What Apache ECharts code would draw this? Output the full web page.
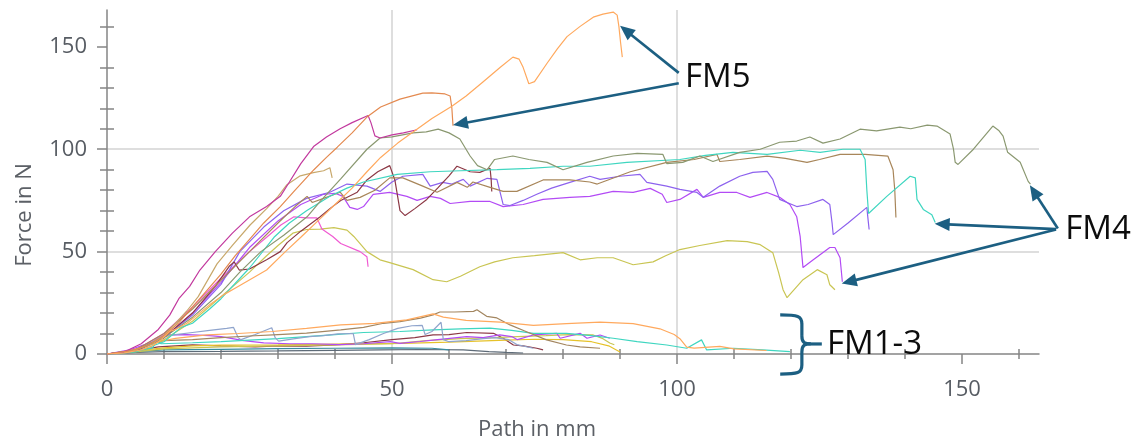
<!DOCTYPE html>
<html>
<head>
<meta charset="utf-8">
<script src="https://cdn.jsdelivr.net/npm/echarts@6.0.0/dist/echarts.min.js"></script>
<style>
html,body{margin:0;padding:0;background:#fff;}
#c{width:1138px;height:438px;}
</style>
</head>
<body>
<div id="c"></div>
<script>
// ---------- tick labels / ticks ----------
const xMajorTicks = [0, 50, 100, 150];
const xMinorTicks = [10, 20, 30, 40, 60, 70, 80, 90, 110, 120, 130, 140, 160];
const yMajorTicks = [0, 50, 100, 150];
const yMinorTicks = [10, 20, 30, 40, 60, 70, 80, 90, 110, 120, 130, 140, 160];
const xName = 'Path in mm';
const yName = 'Force in N';

// ---------- high-force curves (FM4 / FM5) : [path mm, force N] ----------
const fm5Orange = [[0,0],[3,0.5],[6,2],[8,4],[9.5,7],[11,11],[12,12],[14,15],[15.8,19],[18,24],[20.5,29],[23,33],[25.5,37],[28,41],[31.3,50],[34,57],[37,65],[40,73],[43,81],[45.6,89],[48,96],[51,103],[54,109],[57,115],[60.5,121],[63,126],[66,133],[69,140],[71.2,145],[72.3,144],[73,140],[74,132],[75,133],[77.2,142],[79,149],[80.7,155],[83,160],[85.3,164.5],[87,166],[88.8,167],[89.5,165.5],[89.8,160],[90.1,152],[90.4,145]];
const fm5DarkOrange = [[0,0],[4,1.5],[7,4],[10,9],[12.5,15],[15,23],[17.5,31],[20,39],[22.5,48],[25,56],[27.5,64],[30.4,72],[33,80],[36.3,90],[38.5,96],[40.4,101],[43,108],[45.6,115.7],[48,120.6],[51.4,124.5],[55.4,127.4],[57,127.5],[59.3,127],[60.2,126],[60.5,120],[60.7,111.5]];
const magenta = [[0,0],[3,1],[6,5],[9,12],[11,19],[12.6,27],[14.5,33],[16.3,41],[19,50],[22,59],[25,67],[28,72],[30.4,77],[32,84],[34,93],[36.3,101.5],[38.5,106],[40.9,110],[43,113],[45.8,116.5],[46.3,113],[47,106.5],[47.9,105.5],[50,107],[52,108],[54.4,109.5]];
const tan = [[0,0],[4,1],[8,5],[10,9],[12,15],[14,21],[16,28],[19.3,44],[22,53],[25.1,63],[28,71],[30,77],[31.5,82.5],[33.9,87],[36.2,88.6],[38,89.5],[39.1,91],[39.5,86]];
const fm4Olive = [[0,0],[5,2],[10,8],[15,18],[20,30],[23.3,40],[27,50],[31,58],[35.1,67],[37.4,74.5],[41,85.5],[45.6,100],[47.9,105.5],[50,106],[53.7,108],[56,108.5],[58.1,109.8],[60,108],[61.9,105],[63.7,96.7],[65,92],[66.7,90],[68,95],[71.2,96.7],[74,95],[77.2,93.6],[80,90],[84.2,93.6],[88.8,96.7],[93,98],[97.5,97.5],[98.2,93],[101,93.6],[104,96.7],[106.3,94],[111,98.5],[114.6,100],[118,103.4],[121,104],[123.3,106],[125.6,103],[128.6,105],[132.1,109.8],[135,109],[139.1,110.8],[141,110],[143.9,111.8],[145.6,111.3],[147.9,107.4],[148.5,100],[148.8,93.6],[149.3,92.6],[152,100],[155.4,111.3],[156.5,109],[157.2,106.4],[158,98.5],[160.2,93.6],[161.6,84.3],[162,83]];
const fm4Teal = [[0,0],[5,1],[10,6],[13,13],[15,15],[18,22],[20,27],[25,42],[29.3,57],[32,64],[35,70],[39.1,77],[42.1,81],[45,84],[50.9,87.7],[56.7,89],[62,89.5],[68.4,90],[74.2,90.7],[80,91.7],[84.7,91.7],[91.2,93.6],[100.5,95],[105,97],[109.8,98.5],[115.8,97.5],[121.6,99.5],[125.1,98.5],[129.1,100],[132.1,100],[133,95],[133.3,80],[133.6,68.6],[136.8,77],[140.9,86.8],[141.8,86],[142.1,75.5],[143.2,70.6],[144.7,68],[145.3,64.2]];
const brown = [[0,0],[5,2],[10,10],[15,22],[20,36],[25,50],[30,64],[33,72],[35.1,77],[36,74],[38,76],[40.9,79],[42.1,75],[44.4,76.5],[47,80],[49.6,86],[51.9,86],[55.4,82],[57.9,79],[61.4,83.8],[63.2,81.4],[64.2,84],[67.2,81.4],[69.5,79.4],[71.9,79.4],[76.5,85],[81.2,85],[84.7,84],[86,83],[91.8,89],[98.2,93.6],[103,95],[107,97.5],[107.5,94],[111,95],[115.8,96.6],[119,95.5],[122.8,93.6],[125,95],[128.6,97.5],[133,97.5],[137,96.6],[137.9,90],[138.2,80],[138.4,66.7]];
const maroon = [[0,0],[5,1.5],[10,8],[15,20],[19,33],[21.5,43],[22.3,45],[23.2,41],[25,41.5],[28,46],[30.4,50],[31.6,54.4],[34,60],[37.4,67],[39.1,71],[41,75],[43.9,79],[45.6,85],[47.5,89],[49.6,92],[50.5,85],[51.4,70],[52.3,67.6],[54,71],[56.1,75.5],[58,81],[60,87],[61.4,91.7],[63.7,89],[65.4,88.7],[67.2,90.7],[67.4,85],[67.5,79.4]];
const fm4Violet = [[0,0],[5,1.5],[10,8],[15,19],[20,34],[23.3,50],[27.5,62],[31,70],[35,76],[39.1,79],[42.1,83],[45.6,82],[47.9,79.4],[50,84],[51.9,86.8],[55.4,87.7],[56.7,82],[58.9,83.8],[60.5,83],[62.5,85.3],[63.7,82],[66.7,85.8],[68.4,85.3],[69.5,73],[70.7,72.5],[73,75],[75.4,78],[78,81],[81.2,83.8],[84.7,86.8],[86.5,85.3],[90,86.8],[93.5,87.7],[94.7,83.8],[98.2,82],[100.5,80.4],[103.5,78.9],[104.6,76.5],[107.5,82],[111,86.8],[113.3,88.7],[115.8,89.2],[116.8,85.3],[118,75.5],[119.3,74],[121,72],[123,73],[125.6,75.5],[126.8,73],[127.2,64],[127.4,58.3],[130,64],[133.3,71.6],[133.5,66],[133.7,60.8]];
const fm4Purple = [[0,0],[5,1.5],[10,8],[15,20],[20,35],[25,52],[30,65],[34,73],[38,78],[40,78.5],[41.4,77],[42.6,71.6],[43.9,70.6],[45,72],[46.7,78],[49.6,78.9],[52.6,77],[54.4,75],[56.7,77],[58.5,76],[60.2,73.5],[63.7,74.5],[67.2,74.5],[69.5,72],[73,73],[76.5,75.5],[81.2,76.5],[84.7,77],[88.8,79.4],[92.3,78.9],[95.3,80.9],[97.4,78],[98.2,74],[100.5,75.5],[103.5,80.4],[104.6,76.5],[107.5,78.9],[110.5,78.9],[112.8,76.5],[115.8,78.9],[118,76.5],[119.8,73],[121,67],[121.6,57.4],[122.1,42.2],[123.9,46],[126.8,52],[127.7,52],[128.6,47],[129,35.3]];
const pink = [[0,0],[5,2],[10,10],[15,23],[20,37],[25,50],[28,57],[30.5,63],[32.8,67],[35,66.5],[36.8,66.5],[37.7,61],[39.6,57.4],[41,54],[44.4,50],[45.6,47.5],[45.8,42.6]];
const fm4Yellow = [[0,0],[5,1.5],[10,7],[15,16],[20,28],[25,40],[28,48],[30,53],[32.6,59],[35,60.8],[37.4,61],[39.8,61.7],[42.1,60.5],[43.3,57.4],[45.6,50],[47.9,46],[49.6,44.6],[53.7,41.2],[57.2,36.3],[59.6,35.3],[62,38],[65.4,42.6],[68,45],[71.2,47],[75,48],[80,49.5],[83,46],[86,47],[88.8,47],[92.3,43.6],[95.8,45],[98,48],[100.5,51],[104,53],[108.8,55.4],[112.3,54.9],[114.6,53.4],[116.8,49.5],[117.8,40],[118.6,31.4],[119.3,27.5],[122.1,36.3],[124.6,41.2],[126.3,38.7],[126.8,33.8],[127.7,31.4]];

// ---------- low-force curves (FM1-3) ----------
const lowBlueGray = [[0,0],[4,1],[7,4],[9,8],[12,9.5],[15,10.5],[18,11.5],[21,12.5],[22.2,13],[23,8],[23.5,7],[26,9.5],[28.9,12.8],[29.5,8],[30.1,6.3],[33,7.5],[35.5,8.5],[38,9],[40.5,9.8],[43.2,10],[43.6,4.6],[46,7],[48.5,10],[51,12.5],[53.5,13.8],[55.3,14],[55.8,9.5],[57,11],[58.6,15.5],[59,7],[60,6],[63,6.5],[66,7.5],[68,8],[70.5,7],[71.9,4.6],[74.8,2.8]];
const lowOrange = [[0,0],[3,1],[6,3],[9,6],[12,7.6],[17.5,9.3],[23,10],[29,11],[35,12.5],[41,14.2],[47,15],[52.6,16.7],[57.2,19.6],[59,18],[63,16.4],[69,15.6],[74.8,14],[80.6,14.8],[86.5,15.6],[92.3,14.8],[97,12.3],[99.5,9.5],[100.5,7.5],[101.7,3.4],[103,2.9],[107.5,3.7],[110,2.5],[115.7,1.7]];
const lowBrown = [[0,0],[4,1],[8,5],[10,6.5],[15,7],[20,8],[25,8.8],[30,9.5],[35,10.2],[41,11.8],[45,13],[48.5,15],[51.4,15.8],[55,17.5],[57.2,19.1],[58.4,20.5],[61,20.5],[64.3,20.8],[64.9,21.6],[66.6,18.4],[68.4,17.6],[70.7,14.2],[73.6,10.9],[77.1,6.9],[80.6,4.4],[83,3.5],[86.5,2.8]];
const lowTeal = [[0,0],[4,1],[8,3],[8.8,6.9],[9.5,5],[15,5.5],[20,6],[25,6.8],[30,7.5],[35,8.5],[40,9.5],[45,10.5],[51.4,11],[57.2,11.8],[62,12.3],[67.2,12.6],[71,11.5],[74.8,10.1],[80.6,10.1],[85,9],[88.8,7.7],[93,6],[98.2,4.4],[101.7,2.8],[104.3,6.9],[105.2,2],[109.9,2.8],[115,2],[119.8,1.2]];
const lowPurple = [[0,0],[4,2],[8,6],[10,9.3],[14,9.5],[18,9],[20,8.5],[24,6.5],[27.5,5.4],[32,5],[36,5],[40.9,4.6],[45,5],[49.7,6],[51.4,5.2],[54.9,6.1],[58,7],[63.1,8.5],[66,8],[68.9,9.3],[71,8.5],[72,7],[74.8,9.3],[78.9,10.1],[79.5,7.7],[83,10.1],[84.2,7.7],[86.5,9.3],[88.2,7.7]];
const lowMaroon = [[0,0],[5,1.5],[9,3.5],[15,4.5],[20,4],[26,3.5],[30,4],[35,3.8],[40,4.5],[45,5.5],[50,7],[54,8],[57.2,9.3],[60,9.5],[63.1,10.5],[67.8,10.1],[69.5,7.7],[71.3,4.4],[73,4],[75.4,2.8],[76.5,2]];
const lowGold = [[0,0],[5,1.5],[10,3],[15,4],[20,4.3],[30,4.5],[40,4.8],[52,5.2],[60,5.8],[65,6.3],[70,6.8],[75,7.2],[80,7],[85,6],[88,4],[90,1]];
const lowOlive = [[0,0],[5,1],[10,2.5],[20,3.5],[30,4],[40,4.5],[50,5],[56,6.5],[62,7.5],[68,8],[72,8.5],[77,9],[81,9.5],[85.3,9.3],[87,7.5],[88.2,5.4],[89,4.5]];
const lowSlate = [[0,0],[5,0.8],[10,1.2],[20,1.3],[30,1.5],[40,1.8],[48,2],[55,2.2],[62.5,2],[67,1.2],[70,0.8],[73,0.5]];
const lowDarkTeal = [[0,0],[5,1.2],[10,2],[20,2.3],[30,2.6],[40,2.8],[50,3],[57,2.8],[60,2]];

// ---------- annotations (data coordinates) ----------
const annFM5 = {label: 'FM5', at: [101.4, 134.8], from: [[100.3, 137.3], [100.3, 132.2]], to: [[90.0, 160.3], [60.7, 111.8]]};
const annFM4 = {label: 'FM4', at: [168.1, 60.8], from: [[166.8, 61.3], [166.5, 61.0], [166.5, 60.8]], to: [[161.9, 82.4], [145.2, 63.6], [128.9, 34.4]]};
const annFM13 = {label: 'FM1-3', at: [126.3, 4.4], brace: {x: 121.9, hookX: 118.1, tipX: 125.4, top: 19.1, bottom: -9.8, mid: 4.9}};

const seriesDefs = [
  ['FM low maroon', lowMaroon, '#8c3845'],
  ['FM low slate', lowSlate, '#5e6b78'],
  ['FM low dark teal', lowDarkTeal, '#3a8c9e'],
  ['FM low gold', lowGold, '#e6c22a'],
  ['FM low olive', lowOlive, '#c9c553'],
  ['FM low purple', lowPurple, '#b34bf5'],
  ['FM low teal', lowTeal, '#3fd6c0'],
  ['FM low blue-gray', lowBlueGray, '#8fa4cc'],
  ['FM low brown', lowBrown, '#a38660'],
  ['FM low orange', lowOrange, '#ffa95e'],
  ['FM4 yellow', fm4Yellow, '#c9c553'],
  ['pink', pink, '#f05ad2'],
  ['FM4 purple', fm4Purple, '#b34bf5'],
  ['FM4 violet', fm4Violet, '#8d62ee'],
  ['maroon', maroon, '#8c3845'],
  ['brown', brown, '#a8865a'],
  ['FM4 teal', fm4Teal, '#3fd6c0'],
  ['FM4 olive', fm4Olive, '#8a9870'],
  ['tan', tan, '#c8a86b'],
  ['magenta', magenta, '#c2399e'],
  ['FM5 dark orange', fm5DarkOrange, '#e48a50'],
  ['FM5 orange', fm5Orange, '#ffa95e']
];

const AX = '#858585';
const GRID = '#d3d3d3';
const LBL = '#575c63';
const FONT = '"Open Sans", "Noto Sans", sans-serif';
const XMAX = 163.5, YMAX = 168;

function xAx(extra){ return Object.assign({type:'value', min:0, max:XMAX, position:'bottom', gridIndex:0}, extra); }
function yAx(extra){ return Object.assign({type:'value', min:0, max:YMAX, position:'left', gridIndex:0}, extra); }
const hidden = {axisLine:{show:false}, axisLabel:{show:false}, splitLine:{show:false}};

const option = {
  animation: false,
  backgroundColor: '#ffffff',
  grid: {left:107, right:99, top:10, bottom:84, containLabel:false, outerBoundsMode:'none'},
  xAxis: [
    xAx({interval:50, name:xName, nameLocation:'middle', nameGap:65,
      nameTextStyle:{fontSize:22, color:'#5c6066', fontFamily:FONT, padding:[0,72,0,0]},
      axisLine:{show:true, lineStyle:{color:AX, width:1.5}},
      axisTick:{show:true, customValues:xMajorTicks, length:10, lineStyle:{color:AX, width:1.5}},
      axisLabel:{show:true, customValues:xMajorTicks, margin:25, fontSize:22, color:LBL, fontFamily:FONT},
      splitLine:{show:true, showMinLine:false, showMaxLine:false, lineStyle:{color:GRID, width:1.5}}}),
    xAx(Object.assign({axisTick:{show:true, customValues:xMinorTicks, length:5, inside:false, lineStyle:{color:AX, width:1.5}}}, hidden)),
    xAx(Object.assign({axisTick:{show:true, customValues:xMinorTicks, length:5, inside:true, lineStyle:{color:AX, width:1.5}}}, hidden))
  ],
  yAxis: [
    yAx({interval:50, name:yName, nameLocation:'middle', nameGap:71,
      nameTextStyle:{fontSize:22, color:'#5c6066', fontFamily:FONT, padding:[0,66,0,0]},
      axisLine:{show:true, lineStyle:{color:AX, width:1.5}},
      axisTick:{show:true, customValues:yMajorTicks, length:10, lineStyle:{color:AX, width:1.5}},
      axisLabel:{show:true, customValues:yMajorTicks, margin:20, fontSize:22, color:LBL, fontFamily:FONT},
      splitLine:{show:true, showMinLine:false, showMaxLine:false, lineStyle:{color:GRID, width:1.5}}}),
    yAx(Object.assign({axisTick:{show:true, customValues:yMinorTicks, length:7, inside:false, lineStyle:{color:AX, width:1.5}}}, hidden)),
    yAx(Object.assign({axisTick:{show:true, customValues:yMinorTicks, length:7, inside:true, lineStyle:{color:AX, width:1.5}}}, hidden))
  ],
  series: seriesDefs.map(([name, data, color]) => ({
    name, type:'line', data, xAxisIndex:0, yAxisIndex:0,
    showSymbol:false, symbol:'none', smooth:false,
    lineStyle:{color, width:1.2}, itemStyle:{color}, z:3
  }))
};

const chart = echarts.init(document.getElementById('c'), null, {renderer:'canvas'});
chart.setOption(option);

const ANN = '#1c5f82';
function toPx(p){ return chart.convertToPixel({xAxisIndex:0, yAxisIndex:0}, p); }
function arrow(fromD, toD){
  const a = toPx(fromD), b = toPx(toD);
  const dx = b[0]-a[0], dy = b[1]-a[1], L = Math.hypot(dx, dy), ux = dx/L, uy = dy/L;
  const hl = 15, hw = 6.5;
  const bx = b[0]-ux*hl, by = b[1]-uy*hl;
  return [
    {type:'line', z:100, shape:{x1:a[0], y1:a[1], x2:bx+ux*2, y2:by+uy*2}, style:{stroke:ANN, lineWidth:2.6}},
    {type:'polygon', z:100, shape:{points:[[b[0],b[1]],[bx-uy*hw, by+ux*hw],[bx+uy*hw, by-ux*hw]]}, style:{fill:ANN}}
  ];
}
function label(text, at){
  const p = toPx(at);
  return {type:'text', z:101, x:p[0], y:p[1], style:{text, fontSize:33, fontFamily:FONT, fill:'#0d0d0d', align:'left', verticalAlign:'middle'}};
}
const graphics = [];
annFM5.from.forEach((f,i) => graphics.push(...arrow(f, annFM5.to[i])));
annFM4.from.forEach((f,i) => graphics.push(...arrow(f, annFM4.to[i])));
graphics.push(label(annFM5.label, annFM5.at), label(annFM4.label, annFM4.at), label(annFM13.label, annFM13.at));

// brace
const br = annFM13.brace;
const pTop = toPx([br.hookX, br.top]), pBot = toPx([br.hookX, br.bottom]);
const vx = toPx([br.x, 0])[0], tipX = toPx([br.tipX, 0])[0], midY = toPx([0, br.mid])[1];
const hookX = pTop[0], topY = pTop[1], botY = pBot[1];
const bs = {stroke:ANN, lineWidth:3.2, fill:'none'};
graphics.push(
  {type:'bezierCurve', z:100, shape:{x1:hookX, y1:topY, cpx1:vx-4, cpy1:topY, cpx2:vx, cpy2:topY+1, x2:vx, y2:topY+9}, style:bs},
  {type:'line', z:100, shape:{x1:vx, y1:topY+9, x2:vx, y2:midY-8}, style:bs},
  {type:'bezierCurve', z:100, shape:{x1:vx, y1:midY-8, cpx1:vx, cpy1:midY-1, cpx2:vx+3, cpy2:midY, x2:vx+9, y2:midY}, style:bs},
  {type:'line', z:100, shape:{x1:vx+9, y1:midY, x2:tipX, y2:midY}, style:bs},
  {type:'bezierCurve', z:100, shape:{x1:vx+9, y1:midY, cpx1:vx+3, cpy1:midY, cpx2:vx, cpy2:midY+1, x2:vx, y2:midY+8}, style:bs},
  {type:'line', z:100, shape:{x1:vx, y1:midY+8, x2:vx, y2:botY-9}, style:bs},
  {type:'bezierCurve', z:100, shape:{x1:vx, y1:botY-9, cpx1:vx, cpy1:botY-1, cpx2:vx-4, cpy2:botY, x2:hookX, y2:botY}, style:bs}
);
chart.setOption({graphic: graphics});
</script>
</body>
</html>
